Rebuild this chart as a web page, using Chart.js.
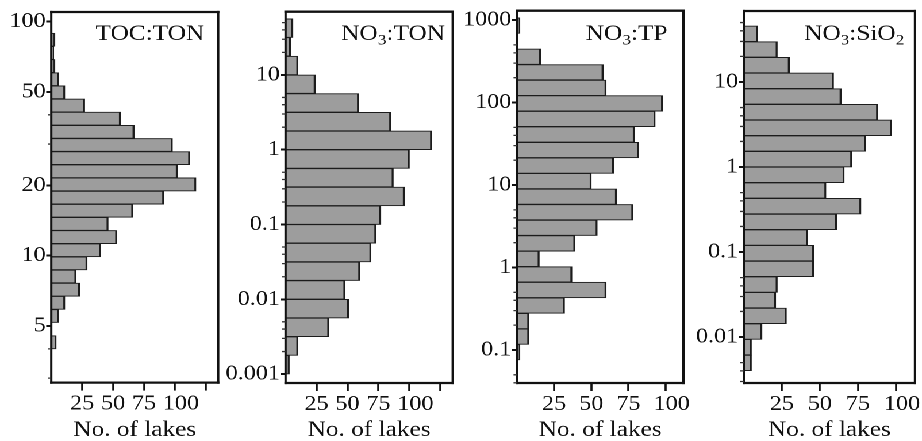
<!DOCTYPE html>
<html>
<head>
<meta charset="utf-8">
<script src="https://cdn.jsdelivr.net/npm/chart.js@4.4.1/dist/chart.umd.min.js"></script>
<style>
  html, body { margin: 0; padding: 0; background: #fff; overflow: hidden; }
  #stage { position: relative; width: 802px; height: 441px; transform: scaleX(1.1496); transform-origin: 0 0; }
  #stage canvas { position: absolute; left: 0; top: 0; }
</style>
</head>
<body>
<div id="stage">
  <canvas id="p1" width="802" height="441"></canvas>
  <canvas id="p2" width="802" height="441"></canvas>
  <canvas id="p3" width="802" height="441"></canvas>
  <canvas id="p4" width="802" height="441"></canvas>
</div>
<script>
// Number of lakes in each ratio bin, listed from the lowest bin upward
const tocTonCounts  = [4, 0, 6, 11, 23, 20, 29, 40, 53, 46, 66, 91, 117, 102, 112, 98, 67, 56, 27, 11, 6, 3, 2, 3];
const no3TonCounts  = [3, 10, 35, 51, 48, 60, 69, 73, 77, 96, 87, 100, 118, 85, 59, 24, 10, 4, 6];
const no3TpCounts   = [2, 8, 8, 32, 60, 37, 15, 39, 54, 78, 67, 50, 65, 82, 79, 93, 98, 60, 58, 16, 0, 2];
const no3SiO2Counts = [5, 5, 12, 28, 21, 22, 46, 46, 42, 61, 77, 54, 66, 71, 80, 97, 88, 64, 59, 30, 22, 9];

// Bin layout of each histogram: [log10 of lowest bin edge, bin width in log10 units]
const tocTonBins  = [0.602, 0.0562];
const no3TonBins  = [-3, 0.25];
const no3TpBins   = [-1.121, 0.1885];
const no3SiO2Bins = [-2.396, 0.1843];

// Ratio axis: labelled ticks and visible range
const tocTonTicks  = [5, 10, 20, 50, 100];
const no3TonTicks  = [0.001, 0.01, 0.1, 1, 10];
const no3TpTicks   = [0.1, 1, 10, 100, 1000];
const no3SiO2Ticks = [0.01, 0.1, 1, 10];
const tocTonRange  = [2.87, 110];
const no3TonRange  = [0.00076, 70];
const no3TpRange   = [0.0398, 1297];
const no3SiO2Range = [0.00288, 68.4];

// Count axis ticks (the 100 label sits a little right of its tick)
const countTicksLong   = [25, 50, 75, 100, 125];
const countLabelsLong  = ['25', '50', '75', '  100', ''];
const countTicksShort  = [25, 50, 75, 100];
const countLabelsShort = ['25', '50', '75', '  100'];
const countMax = [135, 135, 112, 112.5];

const STAGE_W = 802, STAGE_H = 441;
const INK = '#111111';
const BAR_FILL = '#9d9d9d';
const BAR_EDGE = '#1c1c1c';
const SERIF = '"Liberation Serif", "Times New Roman", Times, serif';

Chart.defaults.font.family = SERIF;
Chart.defaults.color = INK;

// Frame drawn around each plotting area
const framePlugin = {
  id: 'panelFrame',
  afterDatasetsDraw(chart) {
    const { ctx, chartArea: a } = chart;
    ctx.save();
    ctx.strokeStyle = INK;
    ctx.lineWidth = 2.3;
    ctx.beginPath();
    ctx.moveTo(a.left - 1, a.top); ctx.lineTo(a.right + 1, a.top);
    ctx.moveTo(a.left - 1, a.bottom); ctx.lineTo(a.right + 1, a.bottom);
    ctx.stroke();
    ctx.lineWidth = 2.0;
    ctx.beginPath();
    ctx.moveTo(a.left, a.top - 1.15); ctx.lineTo(a.left, a.bottom + 1.15);
    ctx.moveTo(a.right, a.top - 1.15); ctx.lineTo(a.right, a.bottom + 1.15);
    ctx.stroke();
    ctx.restore();
  }
};

// Short unlabelled ticks at 2, 3, 4 and 5 times each power of ten
const minorTickPlugin = {
  id: 'minorTicks',
  afterDatasetsDraw(chart, args, opts) {
    const scale = chart.scales.y;
    const { ctx, chartArea: a } = chart;
    const lo = scale.min, hi = scale.max;
    ctx.save();
    ctx.strokeStyle = '#333';
    ctx.lineWidth = 1.3;
    ctx.beginPath();
    for (let e = Math.floor(Math.log10(lo)); e <= Math.ceil(Math.log10(hi)); e++) {
      for (const m of [2, 3, 4, 5]) {
        const v = m * Math.pow(10, e);
        if (v < lo || v > hi) continue;
        if (opts.majors.some(t => Math.abs(t - v) / v < 1e-9)) continue;
        const py = scale.getPixelForValue(v);
        ctx.moveTo(a.left - 3, py);
        ctx.lineTo(a.left, py);
      }
    }
    ctx.stroke();
    ctx.restore();
  }
};

// Panel heading with subscripted digits
const titlePlugin = {
  id: 'panelTitle',
  afterDraw(chart, args, opts) {
    const { ctx, chartArea: a } = chart;
    const mainFont = '22px ' + SERIF;
    const subFont = '15px ' + SERIF;
    ctx.save();
    ctx.fillStyle = INK;
    ctx.textBaseline = 'alphabetic';
    ctx.textAlign = 'left';
    let total = 0;
    for (const seg of opts.parts) {
      ctx.font = seg.sub ? subFont : mainFont;
      total += ctx.measureText(seg.text).width;
    }
    let x = a.right - opts.gap - total;
    const base = 40;
    for (const seg of opts.parts) {
      ctx.font = seg.sub ? subFont : mainFont;
      ctx.fillText(seg.text, x, seg.sub ? base + 4.5 : base);
      x += ctx.measureText(seg.text).width;
    }
    ctx.restore();
  }
};

function binPoints(counts, bins) {
  const [lo, step] = bins;
  return counts.map((c, i) => ({ x: c, y: Math.pow(10, lo + (i + 0.5) * step) }));
}

function ratioLabel(v) {
  return String(v);
}

const panels = [
  { id: 'p1', counts: tocTonCounts, bins: tocTonBins, ticks: tocTonTicks, range: tocTonRange,
    xTicks: countTicksLong, xLabels: countLabelsLong, xMax: countMax[0],
    area: { left: 44.6, right: 189.8, top: 12, bottom: 382.6 }, gap: 12.2,
    title: [{ text: 'TOC:TON' }] },
  { id: 'p2', counts: no3TonCounts, bins: no3TonBins, ticks: no3TonTicks, range: no3TonRange,
    xTicks: countTicksLong, xLabels: countLabelsLong, xMax: countMax[1],
    area: { left: 248.4, right: 393.8, top: 11.7, bottom: 383 }, gap: 6.7,
    title: [{ text: 'NO' }, { text: '3', sub: true }, { text: ':TON' }] },
  { id: 'p3', counts: no3TpCounts, bins: no3TpBins, ticks: no3TpTicks, range: no3TpRange,
    xTicks: countTicksShort, xLabels: countLabelsShort, xMax: countMax[2],
    area: { left: 449.7, right: 594.5, top: 10.7, bottom: 383 }, gap: 13.9,
    title: [{ text: 'NO' }, { text: '3', sub: true }, { text: ':TP' }] },
  { id: 'p4', counts: no3SiO2Counts, bins: no3SiO2Bins, ticks: no3SiO2Ticks, range: no3SiO2Range,
    xTicks: countTicksShort, xLabels: countLabelsShort, xMax: countMax[3],
    area: { left: 647.0, right: 795.9, top: 11, bottom: 383 }, gap: 9.3,
    title: [{ text: 'NO' }, { text: '3', sub: true }, { text: ':SiO' }, { text: '2', sub: true }] }
];

for (const p of panels) {
  const a = p.area;
  const yAxisW = Math.min(a.left, 70);
  new Chart(document.getElementById(p.id), {
    type: 'bar',
    data: {
      datasets: [{
        data: binPoints(p.counts, p.bins),
        backgroundColor: BAR_FILL,
        borderColor: BAR_EDGE,
        borderWidth: { top: 1, bottom: 1, right: 1.7, left: 0 },
        borderSkipped: false,
        barPercentage: 1,
        categoryPercentage: 1
      }]
    },
    options: {
      indexAxis: 'y',
      responsive: false,
      animation: false,
      devicePixelRatio: 2,
      layout: { padding: { left: a.left - yAxisW, right: STAGE_W - a.right, top: a.top, bottom: 0 } },
      plugins: {
        legend: { display: false },
        tooltip: { enabled: false },
        minorTicks: { majors: p.ticks },
        panelTitle: { parts: p.title, gap: p.gap }
      },
      scales: {
        y: {
          type: 'logarithmic',
          min: p.range[0],
          max: p.range[1],
          bounds: 'data',
          offset: false,
          grid: { offset: false, drawOnChartArea: false, drawTicks: true, tickLength: 4.4, tickWidth: 2, tickColor: INK },
          border: { display: false },
          ticks: { autoSkip: false, padding: 0.5, color: INK, font: { size: 21 }, callback: v => ratioLabel(v) },
          afterBuildTicks: s => { s.ticks = p.ticks.map(v => ({ value: v })); },
          afterFit: s => { s.width = yAxisW; s.paddingTop = 0; s.paddingBottom = 0; }
        },
        x: {
          type: 'linear',
          min: 0,
          max: p.xMax,
          bounds: 'data',
          grid: { drawOnChartArea: false, drawTicks: true, tickLength: 8, tickWidth: 1.8, tickColor: INK },
          border: { display: false },
          ticks: { autoSkip: false, maxRotation: 0, padding: 1, color: INK, font: { size: 21 },
                   callback: (v, i) => p.xLabels[i] },
          afterBuildTicks: s => { s.ticks = p.xTicks.map(v => ({ value: v })); },
          title: { display: true, text: 'No. of lakes', color: INK, font: { size: 22, lineHeight: 1 }, padding: { top: 0, bottom: 0 } },
          afterFit: s => { s.height = STAGE_H - a.bottom; s.paddingLeft = 0; s.paddingRight = 0; }
        }
      }
    },
    plugins: [framePlugin, minorTickPlugin, titlePlugin]
  });
}
</script>
</body>
</html>
